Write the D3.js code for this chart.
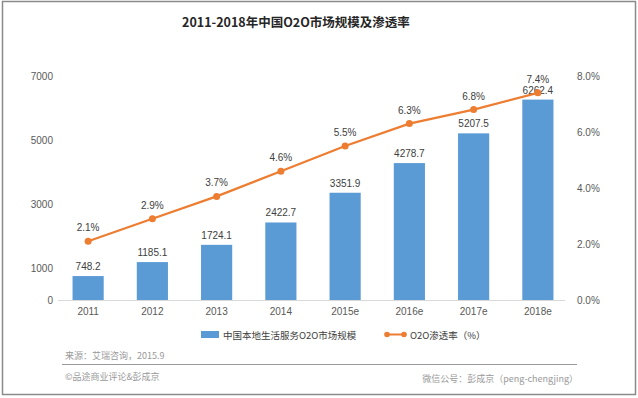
<!DOCTYPE html>
<html>
<head>
<meta charset="utf-8">
<script src="https://cdn.jsdelivr.net/npm/d3@7"></script>
<style>
  body { margin: 0; background: #fff; }
  text { font-family: "Noto Sans CJK SC", "Liberation Sans", sans-serif; }
</style>
</head>
<body>
<div id="chart"></div>
<script>
// data
var years = ["2011", "2012", "2013", "2014", "2015e", "2016e", "2017e", "2018e"];
var scale = [748.2, 1185.1, 1724.1, 2422.7, 3351.9, 4278.7, 5207.5, 6262.4];
var rate = [2.1, 2.9, 3.7, 4.6, 5.5, 6.3, 6.8, 7.4];
var leftTicks = [0, 1000, 3000, 5000, 7000];
var rightTicks = [0, 2, 4, 6, 8];

var W = 638, H = 398;
var plot = {left: 56, right: 570, top: 76, bottom: 300};

var svg = d3.select("#chart").append("svg")
    .attr("width", W)
    .attr("height", H);

svg.append("rect")
    .attr("x", 2.5).attr("y", 1.5)
    .attr("width", W - 5).attr("height", H - 5)
    .attr("fill", "#fff")
    .attr("stroke", "#8a8a8a")
    .attr("stroke-width", 1.5);

// title
svg.append("text")
    .attr("x", 296).attr("y", 27)
    .attr("text-anchor", "middle")
    .attr("font-size", 12.5)
    .attr("font-weight", "bold")
    .attr("fill", "#262626")
    .text("2011-2018年中国O2O市场规模及渗透率");

var x = d3.scaleBand()
    .domain(years)
    .range([plot.left, plot.right])
    .paddingInner(0.515)
    .paddingOuter(0.2575);

var yL = d3.scaleLinear().domain([0, 7000]).range([plot.bottom, plot.top]);
var yR = d3.scaleLinear().domain([0, 8]).range([plot.bottom, plot.top]);

// x axis line
svg.append("line")
    .attr("x1", 58).attr("x2", 565)
    .attr("y1", plot.bottom + 0.5).attr("y2", plot.bottom + 0.5)
    .attr("stroke", "#d9d9d9");

// left axis
var gL = svg.append("g")
    .attr("transform", "translate(53,0)")
    .call(d3.axisLeft(yL).tickValues(leftTicks).tickSize(0).tickPadding(0)
        .tickFormat(d3.format("d")));
gL.select(".domain").remove();
gL.selectAll("text").attr("font-size", 10).attr("fill", "#595959")
    .style("font-family", "'Liberation Sans', sans-serif");

// right axis
var gR = svg.append("g")
    .attr("transform", "translate(577,0)")
    .call(d3.axisRight(yR).tickValues(rightTicks).tickSize(0).tickPadding(0)
        .tickFormat(function(d){ return d.toFixed(1) + "%"; }));
gR.select(".domain").remove();
gR.selectAll("text").attr("font-size", 10).attr("fill", "#595959")
    .style("font-family", "'Liberation Sans', sans-serif");

// bottom labels
var gB = svg.append("g")
    .attr("transform", "translate(0," + plot.bottom + ")")
    .call(d3.axisBottom(x).tickSize(0).tickPadding(8));
gB.select(".domain").remove();
gB.selectAll("text").attr("font-size", 10).attr("fill", "#595959")
    .style("font-family", "'Liberation Sans', sans-serif");

// bars
svg.selectAll(".bar")
    .data(scale)
    .enter()
    .append("rect")
    .attr("class", "bar")
    .attr("x", function(d, i){ return x(years[i]); })
    .attr("y", function(d){ return yL(d); })
    .attr("width", x.bandwidth())
    .attr("height", function(d){ return plot.bottom - yL(d); })
    .attr("fill", "#5B9BD5");

svg.selectAll(".barLabel")
    .data(scale)
    .enter()
    .append("text")
    .attr("x", function(d, i){ return x(years[i]) + x.bandwidth() / 2; })
    .attr("y", function(d){ return yL(d) - 6; })
    .attr("text-anchor", "middle")
    .attr("font-size", 10)
    .attr("fill", "#404040")
    .style("font-family", "'Liberation Sans', sans-serif")
    .text(function(d){ return d.toFixed(1); });

// line
var cx = function(i){ return x(years[i]) + x.bandwidth() / 2; };
var line = d3.line()
    .x(function(d, i){ return cx(i); })
    .y(function(d){ return yR(d); });

svg.append("path")
    .datum(rate)
    .attr("d", line)
    .attr("fill", "none")
    .attr("stroke", "#ED7D31")
    .attr("stroke-width", 2.25);

svg.selectAll(".dot")
    .data(rate)
    .enter()
    .append("circle")
    .attr("cx", function(d, i){ return cx(i); })
    .attr("cy", function(d){ return yR(d); })
    .attr("r", 3.5)
    .attr("fill", "#ED7D31");

svg.selectAll(".rateLabel")
    .data(rate)
    .enter()
    .append("text")
    .attr("x", function(d, i){ return cx(i); })
    .attr("y", function(d){ return yR(d) - 10; })
    .attr("text-anchor", "middle")
    .attr("font-size", 10)
    .attr("fill", "#404040")
    .style("font-family", "'Liberation Sans', sans-serif")
    .text(function(d){ return d.toFixed(1) + "%"; });

// legend
svg.append("rect")
    .attr("x", 201).attr("y", 331)
    .attr("width", 18).attr("height", 7)
    .attr("fill", "#5B9BD5");
svg.append("text")
    .attr("x", 223).attr("y", 338.5)
    .attr("font-size", 9.5)
    .attr("fill", "#404040")
    .text("中国本地生活服务O2O市场规模");

svg.append("line")
    .attr("x1", 386).attr("x2", 405)
    .attr("y1", 334.5).attr("y2", 334.5)
    .attr("stroke", "#ED7D31").attr("stroke-width", 2);
svg.append("circle")
    .attr("cx", 387).attr("cy", 334.5).attr("r", 2.8).attr("fill", "#ED7D31");
svg.append("circle")
    .attr("cx", 404).attr("cy", 334.5).attr("r", 2.8).attr("fill", "#ED7D31");
svg.append("text")
    .attr("x", 410).attr("y", 338.5)
    .attr("font-size", 9.5)
    .attr("fill", "#404040")
    .text("O2O渗透率（%）");

// footer
svg.append("text")
    .attr("x", 65).attr("y", 359)
    .attr("font-size", 9)
    .attr("fill", "#999")
    .text("来源：艾瑞咨询，2015.9");

svg.append("line")
    .attr("x1", 62).attr("x2", 577)
    .attr("y1", 364.5).attr("y2", 364.5)
    .attr("stroke", "#9a9a9a");

svg.append("text")
    .attr("x", 65).attr("y", 380)
    .attr("font-size", 9)
    .attr("fill", "#999")
    .text("©品途商业评论&彭成京");

svg.append("text")
    .attr("x", 578).attr("y", 382)
    .attr("text-anchor", "end")
    .attr("font-size", 9)
    .attr("fill", "#999")
    .text("微信公号：彭成京（peng-chengjing）");
</script>
</body>
</html>
